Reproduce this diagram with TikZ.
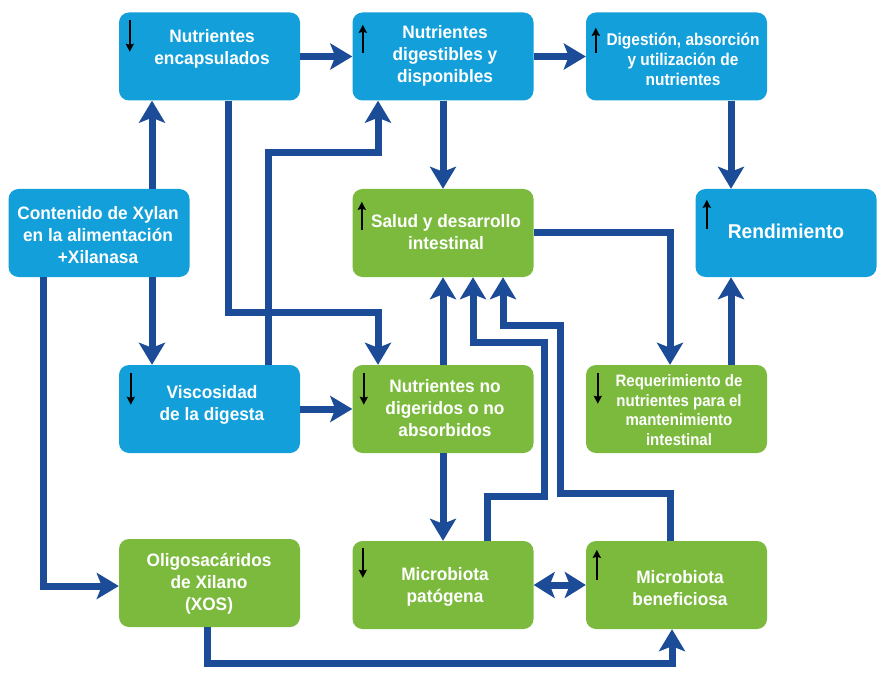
\documentclass[tikz,border=0pt]{standalone}
\usepackage{fontspec}
\newfontfamily\boxfont[FakeStretch=0.96]{Liberation Sans}
\newfontfamily\boxfontn[FakeStretch=0.91]{Liberation Sans}
\usetikzlibrary{arrows.meta,calc}
\definecolor{bcol}{HTML}{129FDA}
\definecolor{gcol}{HTML}{7CBA3E}
\definecolor{arrc}{HTML}{1C4B97}
\begin{document}
\begin{tikzpicture}[x=1pt,y=-1pt,
  box/.style={rounded corners=10pt, minimum width=181pt, minimum height=88pt, inner sep=0pt},
  bluebox/.style={box, fill=bcol},
  greenbox/.style={box, fill=gcol},
  txt/.style={text=white, font=\boxfont\bfseries\fontsize{18}{22}\selectfont, align=center, inner sep=0pt},
  ntxt/.style={txt, font=\boxfontn\bfseries\fontsize{17}{20}\selectfont},
  arr/.style={draw=arrc, line width=7pt, line join=miter, -{Stealth[length=22pt,width=26pt,inset=5pt]}},
  dblarr/.style={draw=arrc, line width=7pt, {Stealth[length=21pt,width=26pt,inset=5pt]}-{Stealth[length=21pt,width=26pt,inset=5pt]}},
  tinyarr/.style={draw=black, line width=2.3pt, -{Stealth[length=8pt,width=8pt,inset=1pt]}}]
\fill[white] (0,0) rectangle (890,684);
\useasboundingbox (0,0) rectangle (890,684);

% boxes
\node[bluebox] (enc) at (209.5,56.5) {};
\node[bluebox] (dig) at (443,56.5) {};
\node[bluebox] (abs) at (676.5,56.5) {};
\node[bluebox] (cont) at (99,233) {};
\node[greenbox] (salud) at (443,233) {};
\node[bluebox] (rend) at (786,233) {};
\node[bluebox] (visc) at (209.5,409) {};
\node[greenbox] (nodig) at (443,409) {};
\node[greenbox] (req) at (676.5,409) {};
\node[greenbox] (oligo) at (209.5,583) {};
\node[greenbox] (pat) at (443,585) {};
\node[greenbox] (ben) at (676.5,585) {};

% connectors
\draw[arr] (enc.east) -- (dig.west);
\draw[arr] (dig.east) -- (abs.west);
\draw[arr] ($(cont.north)+(53,0)$) -- ($(enc.south)+(-57.5,0)$);
\draw[arr] ($(cont.south)+(53,0)$) -- ($(visc.north)+(-57.5,0)$);
\draw[arr] ($(cont.south)+(-56,0)$) |- ($(oligo.west)+(0,3)$);
\draw[arr] ($(enc.south)+(18.5,0)$) -- ++(0,211.5) -| ($(nodig.north)+(-65,0)$);
\draw[arr] ($(visc.north)+(58.5,0)$) -- ++(0,-212) -| ($(dig.south)+(-65,0)$);
\draw[arr] (visc.east) -- (nodig.west);
\draw[arr] (dig.south) -- (salud.north);
\draw[arr] ($(abs.south)+(54.5,0)$) -- ($(rend.north)+(-55,0)$);
\draw[arr] (salud.east) -| ($(req.north)+(-6.5,0)$);
\draw[arr] ($(req.north)+(54.5,0)$) -- ($(rend.south)+(-55,0)$);
\draw[arr] (nodig.north) -- (salud.south);
\draw[arr] (nodig.south) -- (pat.north);
\draw[arr] ($(pat.north)+(44,0)$) -- ++(0,-44) -- ++(57,0) -- ++(0,-154) -| ($(salud.south)+(30,0)$);
\draw[arr] ($(ben.north)+(-6.5,0)$) -- ++(0,-47) -- ++(-110,0) -- ++(0,-168) -| ($(salud.south)+(60,0)$);
\draw[dblarr] (pat.east) -- (ben.west);
\draw[arr] ($(oligo.south)+(-2.5,0)$) -- ++(0,36) -| ($(ben.south)+(-4.5,0)$);

% small trend arrows
\draw[tinyarr] ($(enc.north west)+(11,7.5)$) -- ++(0,32);
\draw[tinyarr] ($(dig.north west)+(10.5,40.5)$) -- ++(0,-28);
\draw[tinyarr] ($(abs.north west)+(10,40.5)$) -- ++(0,-25);
\draw[tinyarr] ($(salud.north west)+(9.5,41)$) -- ++(0,-28);
\draw[tinyarr] ($(rend.north west)+(11.5,40)$) -- ++(0,-29);
\draw[tinyarr] ($(visc.north west)+(12,8)$) -- ++(0,32);
\draw[tinyarr] ($(nodig.north west)+(11.5,8)$) -- ++(0,32);
\draw[tinyarr] ($(req.north west)+(12,8)$) -- ++(0,31);
\draw[tinyarr] ($(pat.north west)+(10.5,7)$) -- ++(0,30);
\draw[tinyarr] ($(ben.north west)+(11,39)$) -- ++(0,-30);

% texts
\node[txt] (tenc) at (212,49) {Nutrientes\\encapsulados};
\node[txt] (tdig) at (445,56) {Nutrientes\\digestibles y\\disponibles};
\node[ntxt] (tabs) at (683,59) {Digestión, absorción\\y utilización de\\nutrientes};
\node[txt] (tcont) at (98,235) {Contenido de Xylan\\en la alimentación\\+Xilanasa};
\node[txt] (tsalud) at (446,232) {Salud y desarrollo\\intestinal};
\node[txt, font=\boxfont\bfseries\fontsize{20}{24}\selectfont] (trend) at (786,231) {Rendimiento};
\node[txt] (tvisc) at (212,405) {Viscosidad\\de la digesta};
\node[txt] (tnodig) at (445,408) {Nutrientes no\\digeridos o no\\absorbidos};
\node[ntxt, font=\boxfontn\bfseries\fontsize{16.5}{19.5}\selectfont] (treq) at (679,410) {Requerimiento de\\nutrientes para el\\mantenimiento\\intestinal};
\node[txt] (toligo) at (209,584) {Oligosacáridos\\de Xilano\\(XOS)};
\node[txt] (tpat) at (445,587) {Microbiota\\patógena};
\node[txt] (tben) at (680,588) {Microbiota\\beneficiosa};
\end{tikzpicture}
\end{document}
